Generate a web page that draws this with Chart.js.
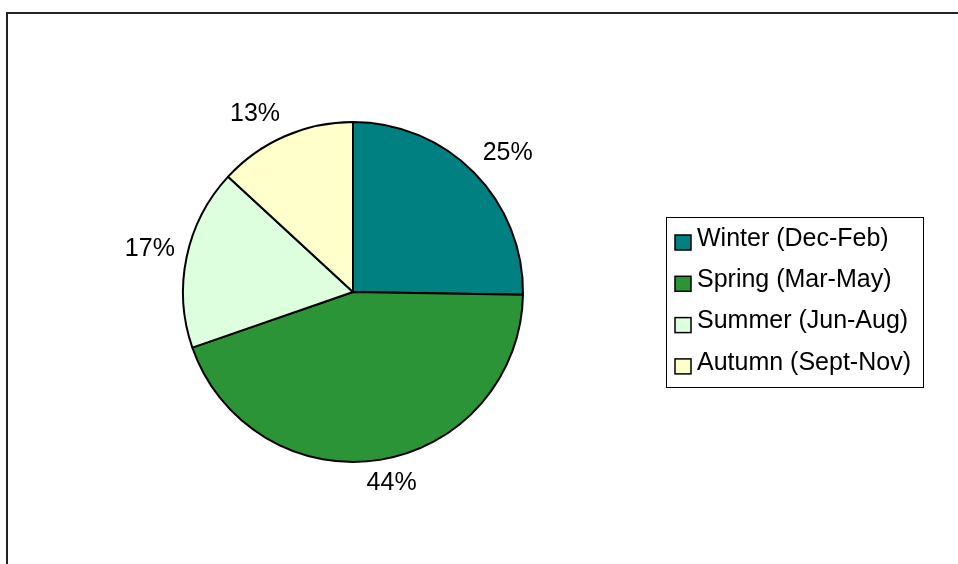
<!DOCTYPE html>
<html>
<head>
<meta charset="utf-8">
<script src="https://cdn.jsdelivr.net/npm/chart.js@4"></script>
<style>
    body { margin: 0; background: #fff; }
    canvas { display: block; }
</style>
</head>
<body>
<canvas id="seasonChart" width="958" height="564"></canvas>
<script>
// Chart data
const seasons = ['Winter (Dec-Feb)', 'Spring (Mar-May)', 'Summer (Jun-Aug)', 'Autumn (Sept-Nov)'];
const shares = [25, 44, 17, 13];
const sliceColors = ['#008080', '#2b9437', '#ddffdd', '#ffffcc'];

const FONT = '"Liberation Sans", Arial, sans-serif';

// Frame round the chart (top and left edges only are visible)
const framePlugin = {
    id: 'frame',
    beforeDraw(chart) {
        const c = chart.ctx;
        c.save();
        c.strokeStyle = '#222';
        c.lineWidth = 2;
        c.beginPath();
        c.moveTo(7, 564);
        c.lineTo(7, 13);
        c.lineTo(958, 13);
        c.stroke();
        c.restore();
    }
};

// Percent labels just outside each slice, text box pushed away from the edge
const pctLabels = {
    id: 'pctLabels',
    afterDatasetsDraw(chart) {
        const c = chart.ctx;
        const data = chart.data.datasets[0].data;
        const total = data.reduce((a, b) => a + b, 0);
        c.save();
        c.font = '25px ' + FONT;
        c.fillStyle = '#000';
        c.textAlign = 'center';
        c.textBaseline = 'middle';
        chart.getDatasetMeta(0).data.forEach((arc, i) => {
            const txt = Math.round(data[i] / total * 100) + '%';
            const mid = (arc.startAngle + arc.endAngle) / 2;
            const dx = Math.cos(mid), dy = Math.sin(mid);
            const dist = arc.outerRadius + 12;
            const halfW = c.measureText(txt).width / 2, halfH = 11;
            const x = arc.x + dx * dist + Math.sign(dx) * halfW * Math.min(1, Math.abs(dx) * 2.5);
            const y = arc.y + dy * dist + Math.sign(dy) * halfH * Math.min(1, Math.abs(dy) * 2.5);
            c.fillText(txt, x, y);
        });
        c.restore();
    }
};

// Boxed legend on the right
const boxLegend = {
    id: 'boxLegend',
    afterDraw(chart) {
        const c = chart.ctx;
        const labels = chart.data.labels;
        const colors = chart.data.datasets[0].backgroundColor;
        c.save();
        c.strokeStyle = '#000';
        c.lineWidth = 1;
        c.strokeRect(666.5, 217.5, 257, 170);
        c.font = '25px ' + FONT;
        c.textBaseline = 'middle';
        c.textAlign = 'left';
        labels.forEach((lab, i) => {
            const cy = 239 + i * 41.3;
            c.fillStyle = colors[i];
            c.fillRect(675, cy - 4, 16, 15);
            c.lineWidth = 1.5;
            c.strokeRect(675, cy - 4, 16, 15);
            c.fillStyle = '#000';
            c.fillText(lab, 697, cy);
        });
        c.restore();
    }
};

const chart = new Chart(document.getElementById('seasonChart'), {
    type: 'pie',
    data: {
        labels: seasons,
        datasets: [{
            data: shares,
            backgroundColor: sliceColors,
            borderColor: '#000',
            borderWidth: 2
        }]
    },
    options: {
        responsive: false,
        animation: false,
        layout: {
            padding: { left: 182, right: 434, top: 121, bottom: 101 }
        },
        plugins: {
            legend: { display: false },
            tooltip: { enabled: false }
        }
    },
    plugins: [framePlugin, pctLabels, boxLegend]
});
</script>
</body>
</html>
